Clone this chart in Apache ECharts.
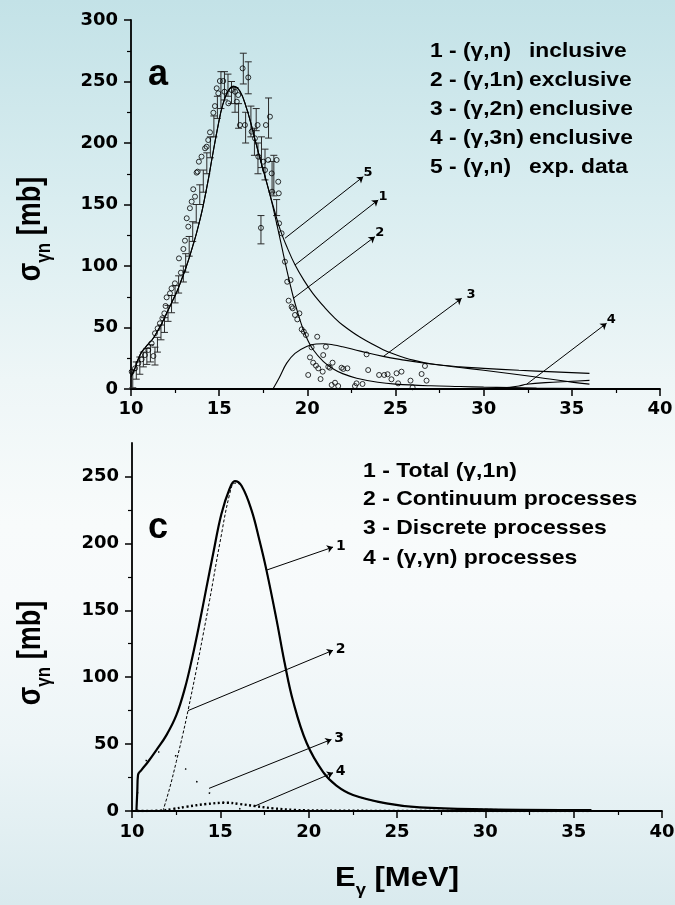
<!DOCTYPE html>
<html>
<head>
<meta charset="utf-8">
<script src="https://cdn.jsdelivr.net/npm/echarts@6/dist/echarts.min.js"></script>
<style>
  html, body { margin: 0; padding: 0; }
  body {
    width: 675px; height: 905px;
    background: linear-gradient(to bottom, #c3e2e7 0%, #d9edf0 22%, #eef6f7 42%, #f8fbfb 58%, #f7fafb 66%, #edf5f7 82%, #d9eaee 100%);
  }
  #chart { width: 675px; height: 905px; }
</style>
</head>
<body>
<div id="chart"></div>
<script>
// ---------- Panel (a): photoneutron cross sections ----------
// (γ,n) inclusive
const incE = [10.0,10.2,10.4,10.6,10.8,11.0,11.2,11.5,11.75,12.0,12.3,12.6,12.87,13.1,13.34,13.55,13.72,13.9,14.1,14.38,14.6,14.95,15.2,15.5,15.8,16.18,16.56,16.8,17.03,17.25,17.5,17.75,18.0,18.45,18.9,19.3,19.8,20.3,21.0,21.5,22.0,23.0,24.3,25.0,26.0,27.0,28.65,30.0,32.0,34.0,36.0];
const incS = [10,16,24,30,33.5,37,40,47,53.5,61,70,79,89,98,108.5,118.5,127,137,149.5,170,188,215,231,242,246,242,228,216,203,191,178,165,152,130,113.5,101,88.5,78,66,58.5,52,42,32,28,23.5,20.5,18,16.8,15.2,13.9,12.7];
// (γ,1n) exclusive
const excE = [10.0,10.2,10.4,10.6,10.8,11.0,11.2,11.5,11.75,12.0,12.3,12.6,12.87,13.1,13.34,13.55,13.72,13.9,14.1,14.38,14.6,14.95,15.2,15.5,15.8,16.18,16.56,16.8,17.03,17.25,17.5,17.75,18.0,18.16,18.5,18.84,19.2,19.5,19.75,20.0,20.3,20.9,21.5,22.0,22.8,24.0,25.0,27.0,28.65,30.0,33.0,36.0];
const excS = [10,16,24,30,33.5,37,40,47,53.5,61,70,79,89,98,108.5,118.5,127,137,149.5,170,188,215,231,242,246,242,228,216,203,191,178,165,151,141,119,96.5,75,60,49,40.5,32.5,22.5,16,12.5,8.8,5.5,4,2.6,2,1.5,0.8,0.4];
// (γ,2n) enclusive
const twoE = [18.05,18.4,18.83,19.3,19.96,20.5,20.9,21.5,22.0,23.0,24.3,25.5,26.57,28.65,30.0,32.0,33.5,35.0,36.0];
const twoS = [0,9,21,29,34.6,36.6,36.8,35.8,34.3,30.8,26.5,23.5,21.2,17.5,15.2,11.6,8.6,5.6,4];
// (γ,3n) enclusive
const threeE = [30.0,31.0,32.0,32.43,33.5,35.0,36.0];
const threeS = [0,0.8,2.5,3.8,5.2,6.3,7];
// (γ,n) experimental points
const expE = [10.04,10.23,10.41,10.6,10.79,10.98,11.17,11.27,11.36,11.51,11.64,11.78,11.89,11.96,12.02,12.21,12.3,12.49,12.72,12.83,12.97,13.06,13.16,13.25,13.34,13.44,13.53,13.63,13.72,13.78,13.85,14.0,14.2,14.29,14.38,14.48,14.67,14.76,14.86,14.95,15.04,15.23,15.3,15.52,15.71,15.9,16.0,16.08,16.18,16.33,16.46,16.65,16.84,17.03,17.18,17.22,17.37,17.5,17.6,17.65,17.78,17.88,17.98,18.0,18.26,18.35,18.38,18.4,18.54,18.73,18.86,18.94,19.05,19.11,19.17,19.3,19.43,19.55,19.68,19.8,19.92,20.05,20.15,20.24,20.33,20.49,20.56,20.62,20.75,20.87,20.9,21.05,21.19,21.28,21.38,21.43,21.57,21.75,21.94,22.04,22.27,22.7,22.79,23.13,23.36,23.45,24.07,24.36,24.55,24.77,25.06,25.15,25.34,25.85,25.97,26.48,26.67,26.76];
const expS = [14,16.8,20.9,24.1,27.6,31.7,37.1,26.8,45.3,49.3,53.4,57.5,61.5,67.5,74.5,77.8,81.8,85.9,106.2,94.6,113.8,120.6,138.8,132,147,152.3,162.4,156.4,175.9,176.7,184.8,188.9,195.7,197,202.4,208.7,224.6,230,244.5,240.4,250.4,250.4,241.7,232.3,243,241.7,233.6,239,214.6,260.7,214.6,253.3,209.2,203.8,214.6,188.9,131,184.8,178,214.6,186.2,221.4,175.3,160.4,186.2,168.5,159.1,134.7,126.6,103.5,87.2,71.8,88.6,66.9,65.6,60.2,56.6,61.5,48.5,46.6,43.9,11.4,25.7,33.9,21.4,19,42.5,16.8,8.1,14.1,27.6,34.4,18.1,17.3,3.3,21.4,5.1,2.4,17.3,16.3,16.8,2.4,4.6,4.1,28.2,15.4,11.4,11.4,12,7.9,12.8,4.6,14.1,6.8,1.4,12.2,18.7,6.8];
// (γ,n) experimental points with error bars: energy, lower and upper bound
const barE  = [10.1,10.3,10.5,10.7,10.9,11.1,11.36,11.5,11.7,11.9,12.1,12.3,12.5,12.7,12.97,13.1,13.3,13.5,13.7,13.9,14.1,14.3,14.5,14.7,14.9,15.1,15.3,15.5,15.7,15.9,16.1,16.37,16.5,16.65,16.8,17.0,17.1,17.2,17.37,17.4,17.6,17.8,18.0,18.1,18.26];
const barLo = [1,8,12,18,20,22,19.5,30,40,46,55,62,70,78,87,95,108,120,135,150,160,175,188,205,220,228,235,238,232,225,212,248,200,240,205,190,210,175,118,180,170,204,160,157,141];
const barHi = [15,22,26,30,33,36,34,42,52,58,68,76,84,92,100,110,124,136,150,166,178,192,205,222,238,258,258,256,250,245,232,273,225,266,230,212,228,200,141,205,195,236.6,185,190,154];
// curve tags: label, start point on the curve, end point (E, sigma)
const tagsA = ['5', '1', '2', '3', '4'];
const tagFromA = [[18.73,122.5],[19.30,100.8],[19.2,73.7],[24.3,26.3],[32.43,3.8]];
const tagToA   = [[23.17,172.6],[24.02,153.7],[23.83,123.8],[28.75,73.7],[36.97,53.4]];
const legendA = [['1 - (γ,n)', 'inclusive'], ['2 - (γ,1n)', 'exclusive'], ['3 - (γ,2n)', 'enclusive'], ['4 - (γ,3n)', 'enclusive'], ['5 - (γ,n)', 'exp. data']];

// ---------- Panel (c): (γ,1n) decomposition ----------
const totE = [10.25,10.3,10.34,10.53,10.91,11.38,11.95,12.51,13.0,13.4,13.83,14.2,14.59,15.06,15.53,15.82,16.2,16.76,17.2,17.61,18.18,18.65,19.12,19.88,20.82,21.57,22.51,24.4,26.29,30.07,36.0];
const totS = [0,15,26.9,30.6,36.8,45.5,56.7,71.6,92,114,141,166,192,222,241,246.5,243,225,203,180,143,110,82,51,29,19,12,5.7,2.7,1.3,0.7];
const contE = [11.75,12.13,12.51,12.89,13.17,13.65,14.0,14.4,14.97,15.53,15.82,16.2,16.76,17.2,17.61,18.18,18.65,19.12,19.88,20.82,21.57,22.51,24.4,26.29,30.07,36.0];
const contS = [0,17,37,58,75,106,130,158,200,237,245,243,225,203,180,143,110,82,51,29,19,12,5.7,2.7,1.3,0.7];
const discE = [10.3,10.34,10.6,11.1,11.8,12.46,12.93,13.6,14.36,15.0,15.8,16.5,17.5];
const discS = [0,27,34,44,44,41.3,31.9,22,13.4,7,2.5,0.5,0];
const gamE = [10.3,11.6,12.3,13.08,14.21,15.35,16.1,16.95,17.98,19.2,21.0,25.0,36.0];
const gamS = [0,0.3,1.5,3.2,5.2,6.2,5.2,3.7,2.0,0.8,0.3,0.1,0];
const tagsC = ['1', '2', '3', '4'];
const tagFromC = [[17.61,180],[13.17,75],[14.36,16.9],[16.95,3.7]];
const tagToC   = [[21.38,197.2],[21.38,120.1],[21.29,53.5],[21.38,28.6]];
const legendC = ['1 - Total (γ,1n)', '2 - Continuum processes', '3 - Discrete processes', '4 - (γ,γn) processes'];

// axis ranges
const xMin = 10, xMax = 40, xStep = 5;
const yMaxA = 300, yMaxC = 275, yStep = 50;
const yMajorC = [0, 50, 100, 150, 200, 250];
const yMinorC = [25, 75, 125, 175, 225];

const zip = (xs, ys) => xs.map((x, i) => [x, ys[i]]);

const tickFont = { color: '#000', fontFamily: 'DejaVu Sans', fontWeight: 'bold', fontSize: 18 };
const axisLineStyle = { lineStyle: { color: '#000', width: 1.8 } };

function xAxisFor(grid, margin) {
  return {
    type: 'value', gridIndex: grid, position: 'bottom', min: xMin, max: xMax, interval: xStep,
    axisLine: Object.assign({ onZero: false }, axisLineStyle),
    axisTick: { show: true, inside: false, length: 7, lineStyle: { color: '#000', width: 1.5 } },
    minorTick: { show: true, splitNumber: 2, length: 4, lineStyle: { color: '#000', width: 1.2 } },
    axisLabel: Object.assign({ margin: margin }, tickFont),
    splitLine: { show: false }, minorSplitLine: { show: false }
  };
}

function lineSeries(grid, data, style, extra) {
  return Object.assign({
    type: 'line', xAxisIndex: grid, yAxisIndex: grid === 0 ? 0 : 1,
    data: data, showSymbol: false, symbol: 'none',
    smooth: 0.4, silent: true, animation: false,
    lineStyle: Object.assign({ color: '#000', width: 1.1 }, style)
  }, extra || {});
}

function tagLines(tags, from, to, fontSize, gap) {
  return {
    silent: true, animation: false,
    symbol: ['none', 'arrow'], symbolSize: 6,
    lineStyle: { color: '#000', width: 1, type: 'solid' },
    label: { show: true, position: 'end', formatter: '{b}', distance: gap,
             color: '#000', fontFamily: 'DejaVu Sans', fontWeight: 'bold', fontSize: fontSize },
    emphasis: { disabled: true },
    data: tags.map((t, i) => [
      { name: t, coord: from[i] },
      { name: t, coord: to[i] }
    ])
  };
}

const graphics = [];
function addText(x, y, text, font, extra) {
  graphics.push(Object.assign({
    type: 'text', x: x, y: y, silent: true,
    style: { text: text, font: font, fill: '#000', align: 'left', verticalAlign: 'middle' }
  }, extra || {}));
}

// legend blocks
const rowsA = [52, 81, 110, 139, 168];
legendA.forEach((row, i) => {
  addText(430, rowsA[i], row[0], 'bold 19.5px "Liberation Sans"', { scaleX: 1.17 });
  addText(529, rowsA[i], row[1], 'bold 19.5px "Liberation Sans"', { scaleX: 1.17 });
});
const rowsC = [471, 499.5, 528, 558];
legendC.forEach((row, i) => {
  addText(363, rowsC[i], row, 'bold 20.5px "Liberation Sans"', { scaleX: 1.12 });
});
// panel letters
addText(148, 75, 'a', 'bold 36px "Liberation Sans"');
addText(148, 528, 'c', 'bold 36px "Liberation Sans"');

// axis titles with subscripts
const sigmaTitle = {
  text: '{s|σ}{sub|γn}{s| [mb]}',
  align: 'center', verticalAlign: 'middle', fill: '#000',
  rich: {
    s: { font: 'bold 27px "Liberation Sans"', lineHeight: 40, fill: '#000' },
    sub: { font: 'bold 17px "Liberation Sans"', lineHeight: 17, verticalAlign: 'bottom', fill: '#000' }
  }
};
graphics.push({ type: 'text', x: 31, y: 229, rotation: Math.PI / 2, scaleY: 1.2, silent: true, style: sigmaTitle });
graphics.push({ type: 'text', x: 31, y: 653, rotation: Math.PI / 2, scaleY: 1.2, silent: true, style: Object.assign({}, sigmaTitle) });
graphics.push({
  type: 'text', x: 397, y: 879, scaleX: 1.15, silent: true,
  style: {
    text: '{e|E}{sub|γ}{e| [MeV]}', align: 'center', verticalAlign: 'middle', fill: '#000',
    rich: {
      e: { font: 'bold 27px "Liberation Sans"', lineHeight: 40, fill: '#000' },
      sub: { font: 'bold 16px "Liberation Sans"', lineHeight: 16, verticalAlign: 'bottom', fill: '#000' }
    }
  }
});

const option = {
  animation: false,
  backgroundColor: 'transparent',
  graphic: graphics,
  grid: [
    { left: 131, top: 20, width: 529, height: 369, outerBoundsMode: 'none', containLabel: false },
    { left: 132, top: 443, width: 530, height: 368, outerBoundsMode: 'none', containLabel: false }
  ],
  xAxis: [ xAxisFor(0, 11), xAxisFor(1, 12) ],
  yAxis: [
    {
      type: 'value', gridIndex: 0, position: 'left', min: 0, max: yMaxA, interval: yStep,
      axisLine: Object.assign({ show: true, onZero: false }, axisLineStyle),
      axisTick: { show: true, inside: false, length: 7, lineStyle: { color: '#000', width: 1.5 } },
      minorTick: { show: true, splitNumber: 2, length: 4, lineStyle: { color: '#000', width: 1.2 } },
      axisLabel: Object.assign({ margin: 13 }, tickFont),
      splitLine: { show: false }
    },
    {
      type: 'value', gridIndex: 1, position: 'left', min: 0, max: yMaxC, interval: yStep,
      axisLine: Object.assign({ show: true, onZero: false }, axisLineStyle),
      axisTick: { show: true, inside: false, length: 7, customValues: yMajorC, lineStyle: { color: '#000', width: 1.5 } },
      axisLabel: Object.assign({ margin: 13, customValues: yMajorC }, tickFont),
      splitLine: { show: false }
    },
    {
      type: 'value', gridIndex: 1, position: 'left', offset: 0, min: 0, max: yMaxC, interval: yStep,
      axisLine: { show: false },
      axisTick: { show: true, inside: false, length: 4, customValues: yMinorC, lineStyle: { color: '#000', width: 1.2 } },
      axisLabel: { show: false },
      splitLine: { show: false }
    }
  ],
  series: [
    // panel (a)
    {
      type: 'custom', xAxisIndex: 0, yAxisIndex: 0, silent: true, animation: false,
      data: barE.map((e, i) => [e, barLo[i], barHi[i]]),
      encode: { x: 0, y: [1, 2] },
      renderItem: function (params, api) {
        const top = api.coord([api.value(0), api.value(2)]);
        const bot = api.coord([api.value(0), api.value(1)]);
        const w = 3.5;
        const st = { stroke: '#2a2a2a', lineWidth: 1 };
        return {
          type: 'group',
          children: [
            { type: 'line', shape: { x1: top[0], y1: top[1], x2: bot[0], y2: bot[1] }, style: st },
            { type: 'line', shape: { x1: top[0] - w, y1: top[1], x2: top[0] + w, y2: top[1] }, style: st },
            { type: 'line', shape: { x1: bot[0] - w, y1: bot[1], x2: bot[0] + w, y2: bot[1] }, style: st }
          ]
        };
      }
    },
    {
      type: 'scatter', xAxisIndex: 0, yAxisIndex: 0, silent: true, animation: false,
      data: zip(expE, expS), symbol: 'circle', symbolSize: 5,
      itemStyle: { color: 'rgba(255,255,255,0)', borderColor: '#000', borderWidth: 1 }
    },
    lineSeries(0, zip(excE, excS), {}),
    lineSeries(0, zip(incE, incS), {}, { markLine: tagLines(tagsA, tagFromA, tagToA, 13, 6) }),
    lineSeries(0, zip(twoE, twoS), {}),
    lineSeries(0, zip(threeE, threeS), {}),
    // panel (c)
    lineSeries(1, zip(contE, contS), { width: 1, type: [3, 2] }),
    lineSeries(1, zip(discE, discS), { width: 1.5, type: [1.5, 16] }, { smoothMonotone: 'x' }),
    lineSeries(1, zip(gamE, gamS), { width: 2.4, type: [2, 2.5] }),
    lineSeries(1, zip(totE, totS), { width: 2.2 }, { markLine: tagLines(tagsC, tagFromC, tagToC, 14, 3) })
  ]
};

const chart = echarts.init(document.getElementById('chart'), null, { renderer: 'canvas' });
chart.setOption(option);
</script>
</body>
</html>
